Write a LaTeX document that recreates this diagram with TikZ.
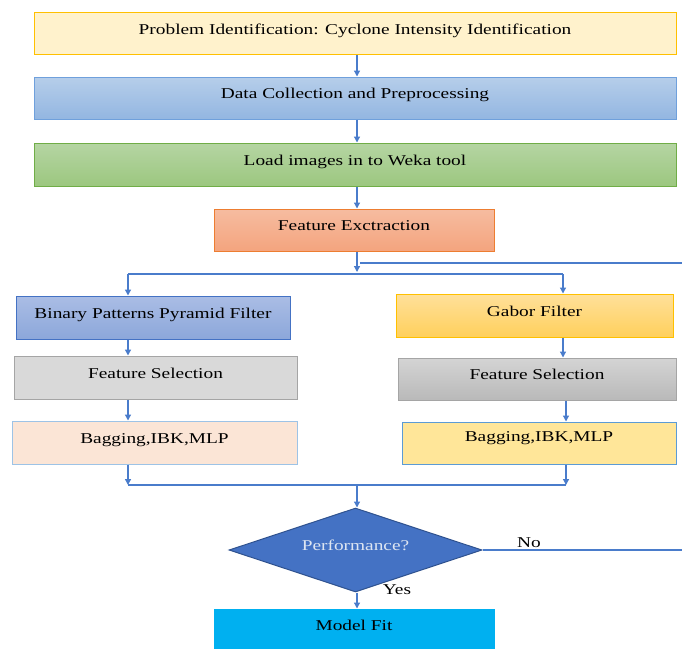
\documentclass[tikz,border=0pt]{standalone}
\usepackage{fontspec}
\setmainfont{Liberation Serif}[FakeStretch=1.29]
\usetikzlibrary{shapes.geometric,arrows.meta}

\tikzset{
    stepbox/.style={rectangle, draw, line width=1pt, minimum height=42pt, text height=10pt, text depth=9pt, inner sep=2pt},
    flow/.style={draw=linkcolor, line width=1.3pt, -{Triangle[length=6pt,width=6pt]}},
    link/.style={draw=linkcolor, line width=1.3pt},
}

\begin{document}
\begin{tikzpicture}[x=1pt,y=-1pt, font=\fontsize{15}{18}\selectfont]
        \definecolor{linkcolor}{RGB}{74, 124, 203}
        \definecolor{probfill}{HTML}{FFF2CC}
        \definecolor{probline}{HTML}{FFC000}
        \definecolor{datatop}{HTML}{B6CEEA}
        \definecolor{databot}{HTML}{93B6E1}
        \definecolor{dataline}{HTML}{6FA0DC}
        \definecolor{loadtop}{HTML}{B5D5A3}
        \definecolor{loadbot}{HTML}{9CC77F}
        \definecolor{loadline}{HTML}{70AD47}
        \definecolor{feattop}{HTML}{F6BCA0}
        \definecolor{featbot}{HTML}{F4A47E}
        \definecolor{featline}{HTML}{ED7D31}
        \definecolor{bpptop}{HTML}{AABDE5}
        \definecolor{bppbot}{HTML}{8CA7DA}
        \definecolor{bppline}{HTML}{4472C4}
        \definecolor{gabtop}{HTML}{FFE09A}
        \definecolor{gabbot}{HTML}{FFD05C}
        \definecolor{selfill}{HTML}{D9D9D9}
        \definecolor{seltop}{HTML}{D4D4D4}
        \definecolor{selbot}{HTML}{B9B9B9}
        \definecolor{selline}{HTML}{A5A5A5}
        \definecolor{bagleft}{HTML}{FBE5D6}
        \definecolor{bagleftline}{HTML}{9DC3E6}
        \definecolor{bagright}{HTML}{FFE699}
        \definecolor{bagrightline}{HTML}{5B9BD5}
        \definecolor{decfill}{HTML}{4472C4}
        \definecolor{decline}{HTML}{2F528F}
        \definecolor{dectext}{RGB}{222, 230, 242}
        \definecolor{fitfill}{HTML}{00B0F0}

        \useasboundingbox (0,0) rectangle (682,648);
        \clip (0,0) rectangle (682,648);

        % Main column
        \node[stepbox, fill=probfill, draw=probline, minimum width=642pt] (prob) at (355,33.5) {Problem Identification: Cyclone Intensity Identification};
        \node[stepbox, top color=datatop, bottom color=databot, draw=dataline, minimum width=642pt] (data) at (355,98) {Data Collection and Preprocessing};
        \node[stepbox, top color=loadtop, bottom color=loadbot, draw=loadline, minimum width=642pt, minimum height=43pt] (load) at (355,164.5) {Load images in to Weka tool};
        \node[stepbox, top color=feattop, bottom color=featbot, draw=featline, minimum width=280pt] (feat) at (354,230) {Feature Exctraction};

        % Left branch
        \node[stepbox, top color=bpptop, bottom color=bppbot, draw=bppline, minimum width=274pt, minimum height=43pt] (bpp) at (153,317.5) {Binary Patterns Pyramid Filter};
        \node[stepbox, fill=selfill, draw=selline, minimum width=283pt, minimum height=43pt] (selL) at (155.5,377.5) {Feature Selection};
        \node[stepbox, fill=bagleft, draw=bagleftline, minimum width=285pt, minimum height=43pt] (bagL) at (154.5,442.5) {Bagging,IBK,MLP};

        % Right branch
        \node[stepbox, top color=gabtop, bottom color=gabbot, draw=probline, minimum width=277pt, minimum height=43pt] (gab) at (534.5,315.5) {Gabor Filter};
        \node[stepbox, top color=seltop, bottom color=selbot, draw=selline, minimum width=278pt] (selR) at (537,379) {Feature Selection};
        \node[stepbox, fill=bagright, draw=bagrightline, minimum width=274pt, text depth=14pt] (bagR) at (539,443) {Bagging,IBK,MLP};

        % Decision and result
        \node[diamond, aspect=3, draw=decline, fill=decfill, line width=1pt, minimum width=253pt, minimum height=84pt, inner sep=0pt, text=dectext, text height=10pt, text depth=9pt] (perf) at (355.5,550) {Performance?};
        \node[stepbox, fill=fitfill, draw=fitfill, minimum width=280pt] (fit) at (354,630) {Model Fit};

        \node (no) at (529,543) {No};
        \node (yes) at (397,590) {Yes};

        % Junction points
        \coordinate (fork) at (357,272);
        \coordinate (forkL) at (128,274);
        \coordinate (forkR) at (563,274);
        \coordinate (joinL) at (128,485);
        \coordinate (joinR) at (566,485);
        \coordinate (join) at (357,485);
        \coordinate (noEnd) at (690,550);
        \coordinate (loopEnd) at (690,263);
        \coordinate (loopIn) at (360,263);

        % Draw connectors
        \draw[flow] (prob.south -| fork) -- (data.north -| fork);
        \draw[flow] (data.south -| fork) -- (load.north -| fork);
        \draw[flow] (load.south -| fork) -- (feat.north -| fork);
        \draw[flow] (feat.south -| fork) -- (fork);
        \draw[link] (forkL) -- (forkR);
        \draw[flow] (forkL) -- (forkL |- bpp.north);
        \draw[flow] (forkR) -- (forkR |- gab.north);
        \draw[flow] (bpp.south -| forkL) -- (selL.north -| forkL);
        \draw[flow] (selL.south -| forkL) -- (bagL.north -| forkL);
        \draw[flow] (gab.south -| forkR) -- (selR.north -| forkR);
        \draw[flow] (selR.south -| joinR) -- (bagR.north -| joinR);
        \draw[flow] (bagL.south -| joinL) -- (joinL);
        \draw[flow] (bagR.south -| joinR) -- (joinR);
        \draw[link] (joinL) -- (joinR);
        \draw[flow] (join) -- (join |- perf.north);
        \draw[flow] (perf.south -| join) -- (fit.north -| join);
        \draw[link] (perf.east) -- (noEnd) -- (loopEnd) -- (loopIn);
    \end{tikzpicture}
\end{document}
